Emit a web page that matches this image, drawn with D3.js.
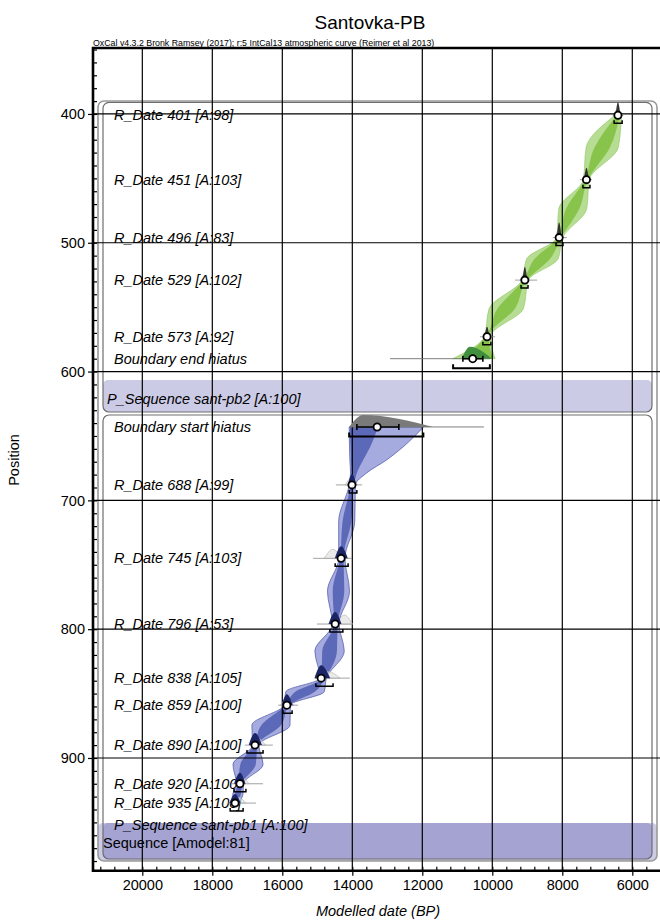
<!DOCTYPE html>
<html>
<head>
<meta charset="utf-8">
<script src="https://cdn.jsdelivr.net/npm/d3@7"></script>
<style>
    body { margin: 0; background: #fff; }
    text { font-family: Arial, "Liberation Sans", sans-serif; }
</style>
</head>
<body>
<svg id="chart" width="660" height="920"></svg>
<script>

const xTickValues = [20000, 18000, 16000, 14000, 12000, 10000, 8000, 6000]
const yTickValues = [400, 500, 600, 700, 800, 900]

// R_Date items (years BP)
const dateNames = ['R_Date 401 [A:98]', 'R_Date 451 [A:103]', 'R_Date 496 [A:83]', 'R_Date 529 [A:102]',
    'R_Date 573 [A:92]', 'R_Date 688 [A:99]', 'R_Date 745 [A:103]', 'R_Date 796 [A:53]',
    'R_Date 838 [A:105]', 'R_Date 859 [A:100]', 'R_Date 890 [A:100]', 'R_Date 920 [A:100]', 'R_Date 935 [A:100]']
const datePositions = [401, 451, 496, 529, 573, 688, 745, 796, 838, 859, 890, 920, 935]
const dateGroups = ['pb2', 'pb2', 'pb2', 'pb2', 'pb2', 'pb1', 'pb1', 'pb1', 'pb1', 'pb1', 'pb1', 'pb1', 'pb1']
const dateMeans = [6410, 7310, 8090, 9070, 10150, 14010, 14320, 14490, 14890, 15870, 16780, 17210, 17350]
const dateRange95 = [[6520, 6290], [7410, 7210], [8180, 7980], [9180, 8980], [10270, 10040],
    [14090, 13870], [14490, 14120], [14640, 14270], [15040, 14550], [15980, 15720],
    [17010, 16550], [17380, 17040], [17490, 17120]]
const dateWhiskers = [[6560, 6260], [7500, 7150], [8270, 7870], [9350, 8720], [10350, 9920],
    [14470, 13720], [15120, 14010], [15010, 13980], [15070, 14070], [16120, 15550],
    [17070, 16270], [17440, 16550], [17550, 16750]]
// posterior humps: [older end, mode, younger end, height]
const dateHumps = [[6480, 6410, 6340, 13], [7380, 7310, 7240, 12], [8160, 8090, 8020, 15], [9140, 9070, 9000, 13],
    [10220, 10150, 10080, 10], [14130, 14010, 13880, 11], [14500, 14320, 14130, 12], [14680, 14490, 14310, 12],
    [15080, 14890, 14630, 13], [16020, 15870, 15700, 11], [16960, 16780, 16580, 12], [17380, 17210, 17050, 11],
    [17510, 17350, 17190, 9]]
// likelihood humps (light outline)
const dateLikelihoods = [[6520, 6420, 6320, 7], [7420, 7320, 7220, 7], [8200, 8100, 7990, 8], [9200, 9080, 8960, 7],
    [10280, 10150, 10030, 6], [14200, 14020, 13850, 7], [14800, 14560, 14300, 9], [14450, 14230, 14000, 9],
    [15000, 14720, 14350, 7], [16050, 15850, 15680, 7], [16950, 16700, 16480, 7], [17300, 17150, 16950, 6],
    [17450, 17250, 17050, 6]]

// Boundaries
const boundaryNames = ['Boundary end hiatus', 'Boundary start hiatus']
const boundaryPositions = [590, 643]
const boundaryGroups = ['pb2', 'pb1']
const boundaryMeans = [10560, 13290]
const boundaryRange95 = [[11120, 10070], [14090, 11970]]
const boundaryRange68 = [[10840, 10270], [13870, 12670]]
const boundaryWhiskers = [[12920, 10070], [14090, 10240]]
const boundaryHumps = [[10870, 10640, 10010, 12], [14090, 13690, 11690, 12]]

// Group rows
const groupNames = ['P_Sequence sant-pb2 [A:100]', 'P_Sequence sant-pb1 [A:100]', 'Sequence [Amodel:81]']
const groupLabelPositions = [621, 952, 966]
const groupBoxes = [[391, 631.4], [633.7, 978.4], [389.9, 980]]
const groupBands = [[606.5, 631.4], [950.5, 978.4], [950.5, 980]]

// Modelled envelopes (95.4% and 68.2% ranges)
const pb2EnvPositions = [401, 426, 451, 473.5, 496, 512.5, 529, 551, 573, 590]
const pb2Old95 = [6490, 7320, 7400, 8100, 8160, 9020, 9150, 10090, 10230, 11130]
const pb2Old68 = [6440, 7080, 7360, 7890, 8120, 8790, 9110, 9850, 10190, 10840]
const pb2Young68 = [6360, 6640, 7270, 7510, 8030, 8350, 9010, 9350, 10100, 9990]
const pb2Young95 = [6310, 6400, 7230, 7300, 7990, 8120, 8970, 9110, 10060, 9920]

const pb1EnvPositions = [643.2, 658.5, 668.6, 678.7, 688, 716.5, 745, 770.5, 796, 817, 838, 848.5, 859, 874.5, 890, 905, 920, 927.5, 935]
const pb1Old95 = [14090, 14080, 14070, 14050, 14090, 14390, 14390, 14710, 14570, 15070, 14920, 15900, 15950, 16870, 16850, 17410, 17310, 17410, 17450]
const pb1Old68 = [14070, 14050, 14040, 14020, 14050, 14280, 14350, 14560, 14520, 14860, 14880, 15630, 15910, 16600, 16810, 17200, 17270, 17350, 17410]
const pb1Young68 = [13270, 13490, 13690, 13870, 13950, 14030, 14250, 14230, 14420, 14440, 14780, 15070, 15810, 16040, 16710, 16760, 17150, 17180, 17290]
const pb1Young95 = [11970, 12550, 13020, 13590, 13910, 13930, 14210, 14080, 14380, 14230, 14740, 14800, 15770, 15780, 16670, 16550, 17110, 17120, 17250]

const colors = {
    pb2: { light: '#b6dd93', dark: '#80bf3e', hump: '#333333', bhump: '#3f8f3f' },
    pb1: { light: '#a5abde', dark: '#5460b4', hump: '#1c2566', bhump: '#7a7a7a' }
}


function drawChart() {

    const width = 660

    const margin = { top: 48, left: 93 }
    const plotBottom = 870.7

    const xScale = d3.scaleLinear()
        .domain([21409, 5000])
        .range([margin.left, 667.3])

    const yScale = d3.scaleLinear()
        .domain([348.8, 987.5])
        .range([margin.top, plotBottom])

    const svg = d3.select('#chart')

    // title
    svg.append('text')
        .attr('x', 370).attr('y', 29)
        .attr('text-anchor', 'middle')
        .style('font-size', '19px')
        .text('Santovka-PB')

    svg.append('text')
        .attr('x', margin.left).attr('y', 46)
        .style('font-size', '8.8px')
        .text('OxCal v4.3.2 Bronk Ramsey (2017); r:5 IntCal13 atmospheric curve (Reimer et al 2013)')

    // group boxes and bands
    const boxInsets = [[10, 8], [10, 8], [5, 3]]
    const bandColors = ['#cccbe6', '#a4a3d1', '#cccbe6']
    const g = svg.append('g')

    // outer sequence band first, inner ones on top
    ;[2, 0, 1].forEach(i => {
        const b = groupBands[i]
        g.append('rect')
            .attr('x', margin.left + boxInsets[i][0])
            .attr('y', yScale(b[0]))
            .attr('width', width - boxInsets[i][1] - margin.left - boxInsets[i][0])
            .attr('height', yScale(b[1]) - yScale(b[0]))
            .attr('rx', 5)
            .attr('fill', bandColors[i])
    })

    groupBoxes.forEach((b, i) => {
        g.append('rect')
            .attr('x', margin.left + boxInsets[i][0])
            .attr('y', yScale(b[0]))
            .attr('width', width - boxInsets[i][1] - margin.left - boxInsets[i][0])
            .attr('height', yScale(b[1]) - yScale(b[0]))
            .attr('rx', 6)
            .attr('fill', 'none')
            .attr('stroke', i == 2 ? '#9a9a9a' : '#6e6e6e')
            .attr('stroke-width', i == 2 ? 1.6 : 1.2)
    })

    // labels
    const labels = g.append('g').style('font-size', '14.5px')

    dateNames.forEach((name, i) => {
        labels.append('text')
            .attr('x', 114).attr('y', yScale(datePositions[i]))
            .attr('dy', '0.35em')
            .style('font-style', 'italic')
            .text(name)
    })

    boundaryNames.forEach((name, i) => {
        labels.append('text')
            .attr('x', 114).attr('y', yScale(boundaryPositions[i]))
            .attr('dy', '0.35em')
            .style('font-style', 'italic')
            .text(name)
    })

    const groupLabelX = [107, 114, 103]
    groupNames.forEach((name, i) => {
        labels.append('text')
            .attr('x', groupLabelX[i]).attr('y', yScale(groupLabelPositions[i]))
            .attr('dy', '0.35em')
            .style('font-style', i == 2 ? 'normal' : 'italic')
            .text(name)
    })

    // envelopes
    function envelope(positions, old, young) {
        const rows = positions.map((p, i) => ({ p: p, a: old[i], b: young[i] }))
        const area = d3.area()
            .y(d => yScale(d.p))
            .x0(d => xScale(d.a))
            .x1(d => xScale(d.b))
            .curve(d3.curveMonotoneY)
        return area(rows)
    }

    const env = svg.append('g')
    env.append('path').attr('d', envelope(pb2EnvPositions, pb2Old95, pb2Young95))
        .attr('fill', colors.pb2.light).attr('stroke', '#8cc85a').attr('stroke-width', 0.6)
    env.append('path').attr('d', envelope(pb2EnvPositions, pb2Old68, pb2Young68))
        .attr('fill', colors.pb2.dark).attr('fill-opacity', 0.85)
    env.append('path').attr('d', envelope(pb1EnvPositions, pb1Old95, pb1Young95))
        .attr('fill', colors.pb1.light).attr('stroke', '#4a55a8').attr('stroke-width', 0.7)
    env.append('path').attr('d', envelope(pb1EnvPositions, pb1Old68, pb1Young68))
        .attr('fill', colors.pb1.dark).attr('fill-opacity', 0.9)

    // gridlines
    const grid = svg.append('g')
    grid.selectAll('.vgrid')
        .data(xTickValues)
        .enter()
        .append('line')
        .attr('x1', d => xScale(d)).attr('x2', d => xScale(d))
        .attr('y1', margin.top).attr('y2', plotBottom)
        .attr('stroke', '#000').attr('stroke-width', 1.2)

    grid.selectAll('.hgrid')
        .data(yTickValues)
        .enter()
        .append('line')
        .attr('x1', margin.left).attr('x2', width)
        .attr('y1', d => yScale(d)).attr('y2', d => yScale(d))
        .attr('stroke', '#000').attr('stroke-width', 1.2)

    // humps
    function hump(h, base) {
        const pts = [[h[0], 0], [h[1], h[3]], [h[2], 0]]
        return d3.area()
            .x(d => xScale(d[0]))
            .y0(base)
            .y1(d => base - d[1])
            .curve(d3.curveMonotoneX)(pts)
    }

    const marks = svg.append('g')

    datePositions.forEach((p, i) => {
        const y = yScale(p)
        const grp = colors[dateGroups[i]]
        marks.append('line')
            .attr('x1', xScale(dateWhiskers[i][0])).attr('x2', xScale(dateWhiskers[i][1]))
            .attr('y1', y).attr('y2', y)
            .attr('stroke', '#8a8a8a').attr('stroke-width', 0.8)
        marks.append('path').attr('d', hump(dateLikelihoods[i], y))
            .attr('fill', '#dcdcdc').attr('fill-opacity', 0.6)
            .attr('stroke', '#a0a0a0').attr('stroke-width', 0.5)
        marks.append('path').attr('d', hump(dateHumps[i], y))
            .attr('fill', grp.hump)
        const bx0 = xScale(dateRange95[i][0]), bx1 = xScale(dateRange95[i][1]), by = y + 8
        marks.append('path')
            .attr('d', `M${bx0},${by - 3}V${by}H${bx1}V${by - 3}`)
            .attr('fill', 'none').attr('stroke', '#000').attr('stroke-width', 1.5)
    })

    boundaryPositions.forEach((p, i) => {
        const y = yScale(p)
        const grp = colors[boundaryGroups[i]]
        marks.append('line')
            .attr('x1', xScale(boundaryWhiskers[i][0])).attr('x2', xScale(boundaryWhiskers[i][1]))
            .attr('y1', y).attr('y2', y)
            .attr('stroke', '#707070').attr('stroke-width', 0.9)
        marks.append('path').attr('d', hump(boundaryHumps[i], y))
            .attr('fill', grp.bhump)
        const r0 = xScale(boundaryRange68[i][0]), r1 = xScale(boundaryRange68[i][1])
        marks.append('path')
            .attr('d', `M${r0},${y - 3}V${y + 3}M${r0},${y}H${r1}M${r1},${y - 3}V${y + 3}`)
            .attr('fill', 'none').attr('stroke', '#000').attr('stroke-width', 1.6)
        const bx0 = xScale(boundaryRange95[i][0]), bx1 = xScale(boundaryRange95[i][1]), by = y + 9.5
        marks.append('path')
            .attr('d', `M${bx0},${by - 4}V${by}H${bx1}V${by - 4}`)
            .attr('fill', 'none').attr('stroke', '#000').attr('stroke-width', 2)
    })

    // mean points
    marks.selectAll('.pt')
        .data(dateMeans.map((m, i) => [m, datePositions[i]]).concat(boundaryMeans.map((m, i) => [m, boundaryPositions[i]])))
        .enter()
        .append('circle')
        .attr('cx', d => xScale(d[0]))
        .attr('cy', d => yScale(d[1]))
        .attr('r', 3.6)
        .attr('fill', '#fff')
        .attr('stroke', '#000')
        .attr('stroke-width', 1.8)

    // axes
    const xAxis = d3.axisBottom(xScale)
        .tickValues(xTickValues)
        .tickFormat(d3.format('d'))
        .tickSize(5)
        .tickPadding(4)

    const xMinor = d3.axisBottom(xScale)
        .tickValues(d3.range(5200, 21400, 400))
        .tickFormat('')
        .tickSize(-4)

    const yAxis = d3.axisLeft(yScale)
        .tickValues(yTickValues)
        .tickSize(5)
        .tickPadding(3)

    const yMinor = d3.axisLeft(yScale)
        .tickValues(d3.range(350, 990, 10))
        .tickFormat('')
        .tickSize(-4)

    svg.append('g').attr('transform', 'translate(0,' + plotBottom + ')').call(xMinor)
        .call(a => a.select('.domain').remove())
    svg.append('g').attr('transform', 'translate(0,' + plotBottom + ')').call(xAxis)
        .style('font-size', '14.5px')
        .call(a => a.select('.domain').remove())
        .call(a => a.selectAll('text').attr('fill', '#000'))

    svg.append('g').attr('transform', 'translate(' + margin.left + ',0)').call(yMinor)
        .call(a => a.select('.domain').remove())
    svg.append('g').attr('transform', 'translate(' + margin.left + ',0)').call(yAxis)
        .style('font-size', '14.5px')
        .call(a => a.select('.domain').remove())
        .call(a => a.selectAll('text').attr('fill', '#000'))

    svg.selectAll('.tick line').attr('stroke', '#000').attr('stroke-width', 1.2)

    // frame
    svg.append('path')
        .attr('d', `M${width},${margin.top}H${margin.left}V${plotBottom}H${width}`)
        .attr('fill', 'none')
        .attr('stroke', '#000')
        .attr('stroke-width', 2.6)

    svg.append('text')
        .attr('x', 378).attr('y', 916)
        .attr('text-anchor', 'middle')
        .style('font-size', '14.5px')
        .style('font-style', 'italic')
        .text('Modelled date (BP)')

    svg.append('text')
        .attr('transform', 'translate(19,460) rotate(-90)')
        .attr('text-anchor', 'middle')
        .style('font-size', '14.5px')
        .text('Position')
}

drawChart()

</script>
</body>
</html>
